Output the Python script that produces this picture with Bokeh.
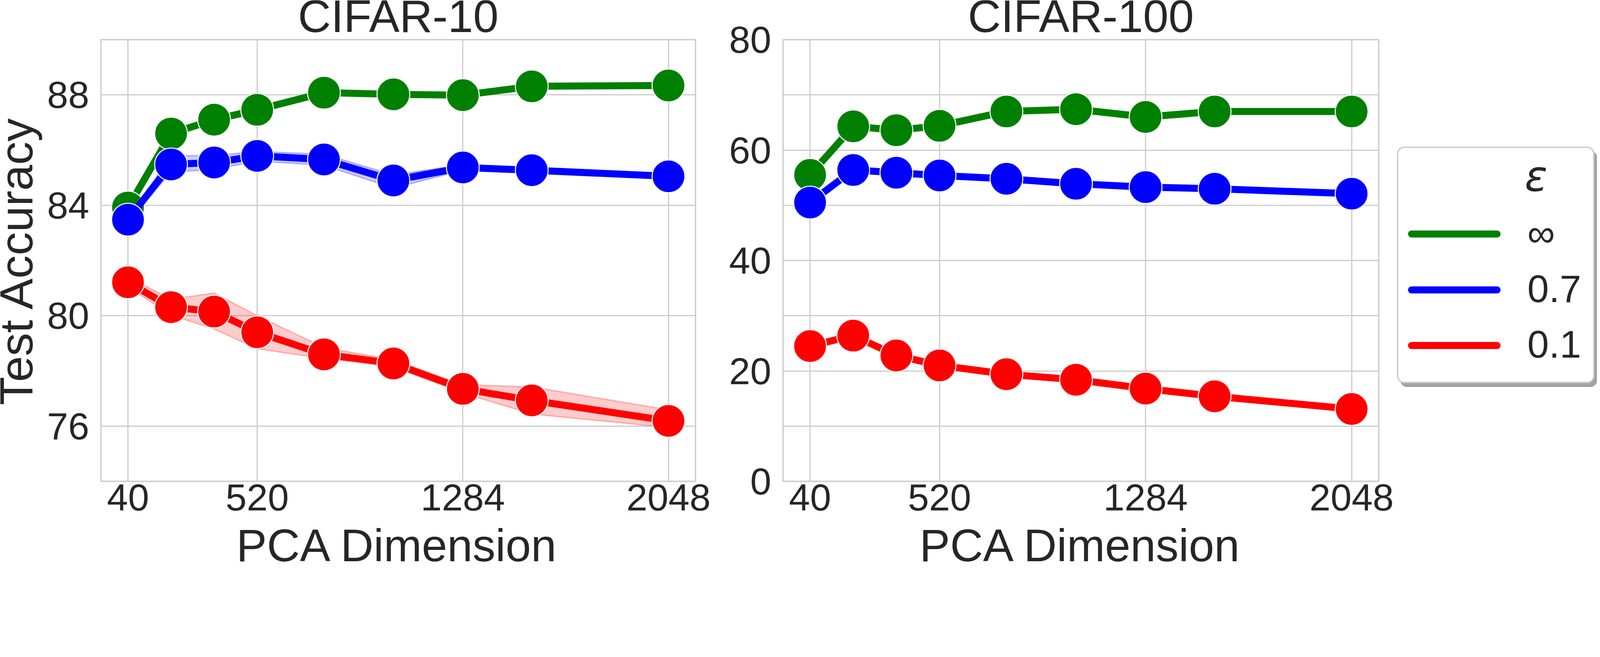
import numpy as np
from bokeh.plotting import figure
from bokeh.models import Range1d, FixedTicker, Grid
from bokeh.layouts import row, column
from bokeh.embed import file_html
from bokeh.resources import INLINE
from bokeh.core.properties import value

# ---------------- data ----------------
pca_dims = [40, 200, 360, 520, 768, 1026, 1284, 1540, 2048]
x_ticks = [40, 520, 1284, 2048]
legend_title = "ε"
eps_labels = ["∞", "0.7", "0.1"]
eps_colors = ["#008000", "#0000ff", "#ff0000"]

# CIFAR-10 (mean, lower, upper)
c10_inf = [83.92, 86.60, 87.10, 87.46, 88.08, 88.02, 87.99, 88.31, 88.34]
c10_inf_lo = [83.86, 86.54, 87.04, 87.40, 88.02, 87.96, 87.93, 88.26, 88.30]
c10_inf_hi = [83.98, 86.66, 87.16, 87.52, 88.14, 88.08, 88.05, 88.36, 88.38]
c10_07 = [83.48, 85.48, 85.55, 85.79, 85.66, 84.90, 85.37, 85.27, 85.05]
c10_07_lo = [83.40, 85.20, 85.30, 85.60, 85.45, 84.62, 85.27, 85.17, 85.00]
c10_07_hi = [83.56, 85.80, 85.80, 85.95, 85.85, 85.10, 85.47, 85.37, 85.10]
c10_01 = [81.21, 80.31, 80.15, 79.40, 78.60, 78.27, 77.35, 76.93, 76.19]
c10_01_lo = [81.05, 80.02, 79.52, 78.80, 78.45, 78.17, 77.20, 76.44, 75.95]
c10_01_hi = [81.40, 80.60, 80.82, 80.00, 78.85, 78.40, 77.50, 77.42, 76.59]
c10_yticks = [76, 80, 84, 88]

# CIFAR-100 (mean, lower, upper)
c100_inf = [55.5, 64.3, 63.6, 64.4, 67.0, 67.4, 66.0, 67.0, 67.0]
c100_inf_lo = [55.3, 64.1, 63.4, 64.2, 66.8, 67.2, 65.8, 66.8, 66.9]
c100_inf_hi = [55.7, 64.5, 63.8, 64.6, 67.2, 67.6, 66.2, 67.2, 67.1]
c100_07 = [50.5, 56.4, 55.9, 55.4, 54.8, 53.9, 53.3, 53.0, 52.1]
c100_07_lo = [50.3, 56.2, 55.7, 55.2, 54.6, 53.7, 53.1, 52.8, 52.0]
c100_07_hi = [50.7, 56.6, 56.1, 55.6, 55.0, 54.1, 53.5, 53.2, 52.2]
c100_01 = [24.5, 26.4, 22.8, 21.0, 19.4, 18.4, 16.8, 15.4, 13.1]
c100_01_lo = [24.2, 26.1, 22.5, 20.7, 19.1, 18.0, 16.3, 15.0, 12.9]
c100_01_hi = [24.8, 26.7, 23.1, 21.3, 19.7, 18.8, 17.3, 15.8, 13.3]
c100_yticks = [0, 20, 40, 60, 80]

titles = ["CIFAR-10", "CIFAR-100"]
x_label = "PCA Dimension"
y_label = "Test Accuracy"

# ---------------- style / layout (CSS px) ----------------
FONT = "Liberation Sans"
TXT = "#262626"
GRID = "#cccccc"
XR = (-60.4, 2148.4)

TICK_FS = "97px"
BIG = 117
LW = 18
MS = 84
FRAME_W, FRAME_H = 1525, 1130
H_MAIN = 1349            # css y 8 .. 1357
T_H = 96                 # title strip css y 8 .. 104
P_TOP = 5                # frame top at css 109
P_BOT = H_MAIN - T_H - P_TOP - FRAME_H   # 118
TOP_ALL = T_H + P_TOP    # 101
H_STRIP = 93             # css y 1357 .. 1450

W0 = 117                 # css x 8 .. 125
W1, L1 = 1705, 138       # css x 125 .. 1830 (frame 263 .. 1788)
W2Y, L2Y = 179, 178      # css x 1830 .. 2009 (axis only)
W2, L2 = 1571, 3         # css x 2009 .. 3580 (frame 2012 .. 3537)
W3 = 516                 # css x 3580 .. 4096

BASE_SHIFT = 0.385       # anchor sits this many em above the drawn baseline


def blank(width, height, xr, yr, top=0, bottom=0, left=0, right=0):
    f = figure(width=width, height=height, output_backend="svg", toolbar_location=None,
               x_range=Range1d(*xr), y_range=Range1d(*yr),
               x_axis_type=None, y_axis_type=None,
               min_border_top=top, min_border_bottom=bottom,
               min_border_left=left, min_border_right=right)
    f.title.visible = False
    f.grid.visible = False
    f.outline_line_color = None
    f.background_fill_color = "white"
    f.border_fill_color = "white"
    return f


def style_axis(ax, standoff):
    ax.axis_line_color = None
    ax.major_tick_line_color = None
    ax.minor_tick_line_color = None
    ax.major_tick_out = 0
    ax.major_tick_in = 0
    ax.major_label_text_font = FONT
    ax.major_label_text_font_size = TICK_FS
    ax.major_label_text_color = TXT
    ax.major_label_standoff = standoff


def panel(width, left_b, yr, yticks, series, with_yaxis):
    p = figure(width=width, height=H_MAIN - T_H, output_backend="svg", toolbar_location=None,
               x_range=Range1d(*XR), y_range=yr,
               y_axis_location="left" if with_yaxis else None,
               min_border_left=left_b, min_border_right=width - left_b - FRAME_W,
               min_border_top=P_TOP, min_border_bottom=P_BOT)
    p.title.visible = False
    p.background_fill_color = "white"
    p.border_fill_color = "white"
    p.outline_line_color = GRID
    p.outline_line_width = 3.5
    p.xaxis.ticker = FixedTicker(ticks=x_ticks)
    style_axis(p.xaxis[0], 7)
    if with_yaxis:
        p.yaxis.ticker = FixedTicker(ticks=yticks)
        style_axis(p.yaxis[0], 30)
    else:
        p.add_layout(Grid(dimension=1, ticker=FixedTicker(ticks=yticks)))
    for g in p.grid:
        g.grid_line_color = GRID
        g.grid_line_width = 3

    for (m, lo, hi), col in zip(series, eps_colors):
        p.patch(pca_dims + pca_dims[::-1], hi + lo[::-1], fill_color=col, fill_alpha=0.2,
                line_color=col, line_alpha=0.25, line_width=3.5)
        p.line(pca_dims, m, line_color=col, line_width=LW, line_join="round")
        p.scatter(pca_dims, m, size=MS, fill_color=col, line_color="white", line_width=2.6)
    return p


def title_strip(width, left_b, text):
    t = blank(width, T_H, XR, (T_H, 0), left=left_b, right=width - left_b - FRAME_W)
    baseline = 94 - 8
    t.text(x=[(XR[0] + XR[1]) / 2], y=[baseline - BASE_SHIFT * BIG], text=[text],
           text_font=value(FONT), text_font_size=f"{BIG}px", text_color=TXT,
           text_align="center", text_baseline="alphabetic")
    return t


yr1 = Range1d(74, 90)
yr2 = Range1d(0, 80)
p1 = panel(W1, L1, yr1, c10_yticks,
           [(c10_inf, c10_inf_lo, c10_inf_hi), (c10_07, c10_07_lo, c10_07_hi),
            (c10_01, c10_01_lo, c10_01_hi)], True)
p2 = panel(W2, L2, yr2, c100_yticks,
           [(c100_inf, c100_inf_lo, c100_inf_hi), (c100_07, c100_07_lo, c100_07_hi),
            (c100_01, c100_01_lo, c100_01_hi)], False)
t1 = title_strip(W1, L1, titles[0])
t2 = title_strip(W2, L2, titles[1])

# axis-only figure carrying the CIFAR-100 y tick labels
p2y = figure(width=W2Y, height=H_MAIN, output_backend="svg", toolbar_location=None,
             x_range=Range1d(0, 1), y_range=yr2, x_axis_location=None,
             min_border_left=L2Y, min_border_right=0,
             min_border_top=TOP_ALL, min_border_bottom=P_BOT)
p2y.title.visible = False
p2y.grid.visible = False
p2y.outline_line_color = None
p2y.background_fill_color = "white"
p2y.border_fill_color = "white"
p2y.yaxis.ticker = FixedTicker(ticks=c100_yticks)
style_axis(p2y.yaxis[0], 30 - (W2Y - L2Y) - L2)

# frame of the side figures (canvas-relative css): y from TOP_ALL to H_MAIN - P_BOT
F_TOP, F_BOT = TOP_ALL, H_MAIN - P_BOT

# y label column: data y = -(canvas y), data x = canvas x
YFS = 119
p0 = blank(W0, H_MAIN, (0, W0), (-F_BOT, -F_TOP), top=TOP_ALL, bottom=P_BOT)
frame_mid = (F_TOP + F_BOT) / 2
p0.text(x=[87 - BASE_SHIFT * YFS], y=[-frame_mid], text=[y_label], angle=np.pi / 2,
        text_font=value(FONT), text_font_size=f"{YFS}px", text_color=TXT,
        text_align="center", text_baseline="alphabetic")

# legend panel: data = canvas css coordinates, y downward
p3 = blank(W3, H_MAIN, (0, W3), (F_BOT, F_TOP), top=TOP_ALL, bottom=P_BOT)
bx0, bx1, by0, by1 = 5.4, 507.5, 376.2, 978.1
p3.quad(left=[bx0 + 7.8], right=[bx1 + 7.8], top=[by0 + 10.4], bottom=[by1 + 10.4],
        fill_color="#a3a3a3", line_color="#999999", line_width=2, border_radius=17)
p3.quad(left=[bx0], right=[bx1], top=[by0], bottom=[by1], fill_color="white",
        line_color=GRID, line_width=3.5, border_radius=17)
row_y = [598.2, 741.3, 883.6]
LFS = 99
p3.segment(x0=[41] * 3, y0=row_y, x1=[260] * 3, y1=row_y, line_color=eps_colors,
           line_width=LW, line_cap="round")
p3.text(x=[337.6] * 3, y=[yy + 0.358 * LFS - BASE_SHIFT * LFS for yy in row_y], text=eps_labels,
        text_font=value(FONT), text_font_size=f"{LFS}px", text_color=TXT,
        text_baseline="alphabetic", text_align="left")
EFS = 108
p3.text(x=[360], y=[491.6 - BASE_SHIFT * EFS], text=[legend_title], text_font=value("DejaVu Sans"),
        text_font_style="italic", text_font_size=f"{EFS}px", text_color=TXT,
        text_baseline="alphabetic", text_align="center")

# x label strip
WS = W0 + W1 + W2Y + W2 + W3
ps = blank(WS, H_STRIP, (0, WS), (H_STRIP, 0))
centers = [W0 + L1 + FRAME_W / 2, W0 + W1 + W2Y + L2 + FRAME_W / 2]
xl_base = 1448 - 1357
ps.text(x=centers, y=[xl_base - BASE_SHIFT * BIG] * 2, text=[x_label] * 2, text_font=value(FONT),
        text_font_size=f"{BIG}px", text_color=TXT, text_align="center",
        text_baseline="alphabetic")

layout = column(row(p0, column(t1, p1), p2y, column(t2, p2), p3), ps)
open("out.html", "w").write(file_html(layout, INLINE))
